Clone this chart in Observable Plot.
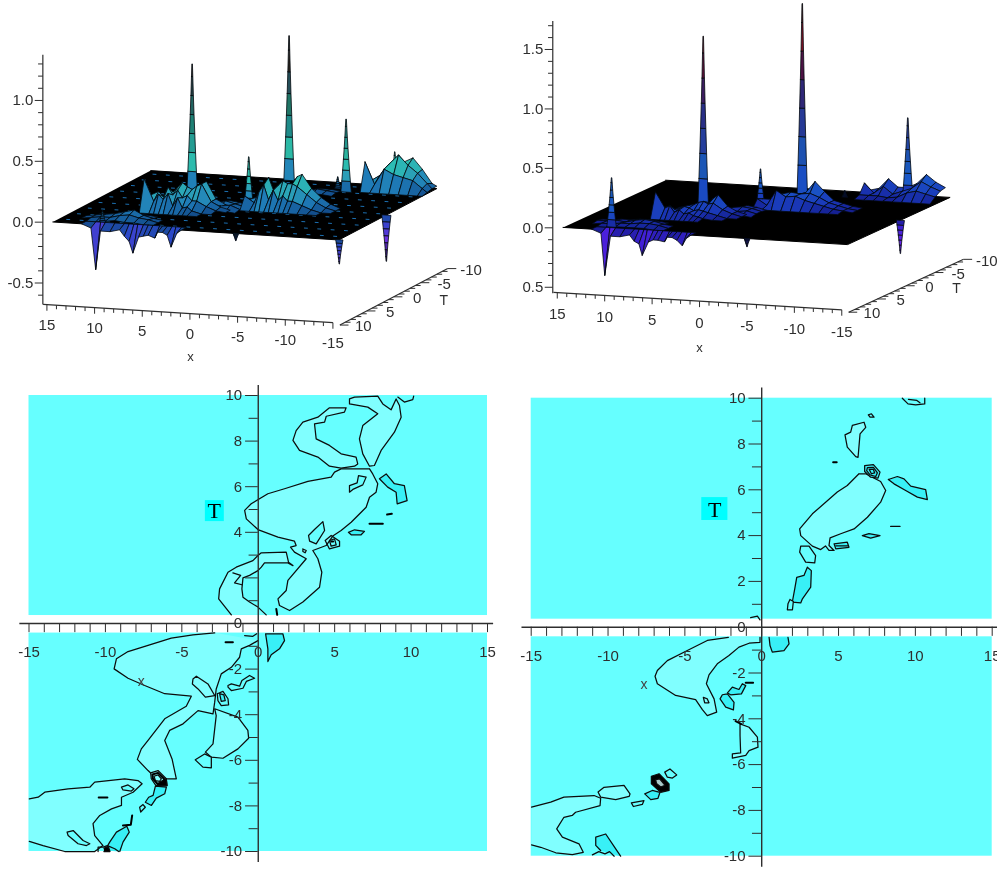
<!DOCTYPE html>
<html><head><meta charset="utf-8">
<script src="https://cdn.jsdelivr.net/npm/d3@7"></script>
<script src="https://cdn.jsdelivr.net/npm/@observablehq/plot@0.6"></script>
<style>
html,body{margin:0;background:#fff}
#fig{position:relative;width:997px;height:870px;overflow:hidden}
#fig svg{position:absolute;filter:blur(.4px);overflow:visible;background:transparent}
</style></head><body><div id="fig"></div>
<script>
// ---------- shared tick values ----------
const xTicks=[-15,-14,-13,-12,-11,-10,-9,-8,-7,-6,-5,-4,-3,-2,-1,0,1,2,3,4,5,6,7,8,9,10,11,12,13,14,15];
const xLabels=[-15,-10,-5,0,5,10,15];
const tTicks=[-10,-9,-8,-7,-6,-5,-4,-3,-2,-1,1,2,3,4,5,6,7,8,9,10];
const tMajor=[-10,-8,-6,-4,-2,2,4,6,8,10];
const tLabelsLeft=[-10,-8,-6,-4,-2,0,4,6,8,10];
const tLabelsRight=[-10,-8,-6,-4,-2,0,2,4,6,8,10];
const zTicksLeft=[-0.6,-0.5,-0.4,-0.3,-0.2,-0.1,0,0.1,0.2,0.3,0.4,0.5,0.6,0.7,0.8,0.9,1,1.1,1.2,1.3];
const zLabelsLeft=[[-0.5,"-0.5"],[0,"0.0"],[0.5,"0.5"],[1,"1.0"]];
const zTicksRight=[-0.5,-0.4,-0.3,-0.2,-0.1,0,0.1,0.2,0.3,0.4,0.5,0.6,0.7,0.8,0.9,1,1.1,1.2,1.3,1.4,1.5,1.6,1.7];
const zLabelsRight=[[-0.5,"0.5"],[0,"0.0"],[0.5,"0.5"],[1,"1.0"],[1.5,"1.5"]];
const t3dTicks=[-10,-9,-8,-7,-6,-5,-4,-3,-2,-1,0,1,2,3,4,5,6,7,8,9,10];
const t3dLabels=[-10,-5,0,5,10];
const dashXs=[-14,-12.6,-11.2,-9.8,-8.4,-7,-5.6,-4.2,-2.8,-1.4,0,1.4,2.8,4.2,5.6,7,8.4,9.8,11.2,12.6,14];
const dashTs=[-8.8,-6.6,-4.4,-2.2,0,2.2,4.4,6.6,8.8];
const spikeLevels=[0,0.15,0.3,0.45,0.6,0.75,0.9,1];
const spikeHalfWidth=[0.55,0.45,0.36,0.28,0.2,0.13,0.07,0.03];

// ---------- left surface: [x,T,z] ----------
const peaksLeft=[[7.58,-4,1.04],[0.29,-9.6,1.19],[-7.13,-6.8,0.6],[-0.4,-0.03,0.4],[-5.76,-7.77,0.1],[10.3,9,0.1],[-11,-9.2,0.3]];
const dipsLeft=[[-15,9.9,-0.2],[-15,0.3,-0.38],[-4.2,10,-0.06]];
const patchesLeft=[
 {xs:[12,11,10.5,10,9,8,7.5,7,6.6,6,5.5,5,4.3,4,3.5,3,2.6,2,1.5],Ts:[9,10],
  zs:[[0,0,0,0,0,0,0,0,0,0,0,0,0,0,0,0,0,0,0],[0,-0.03,-0.37,-0.05,-0.05,-0.03,-0.08,-0.12,-0.215,-0.08,-0.07,-0.06,-0.08,-0.03,-0.03,-0.05,-0.146,-0.03,0]]},
 {xs:[13,12,11,10,9,8,7,6,5],Ts:[6,7,8,9],
  zs:[[0,0,0,0.01,0.03,0.02,0.01,0,0],[0,0.01,0.02,0.03,0.05,0.07,0.03,0.01,0],[0,0.01,0.02,0.02,0.04,0.05,0.03,0.02,0],[0,0,0,0.01,0.02,0.01,0.01,0,0]]},
 {xs:[3.5,2.5,1.5,0.5,-0.5],Ts:[0,1,2,3],
  zs:[[0,0.01,0.03,0.02,0],[0.01,0.03,0.05,0.03,0.01],[0.01,0.04,0.03,0.04,0.01],[0,0.01,0.02,0.01,0]]},
 {xs:[8.5,7.5,7,6.5,6,5.5,5,4.5,4,3.5,2.5,1.5,0.5],Ts:[1,2,3,4,5],
  zs:[[0,0.02,0.03,0.05,0.06,0.08,0.1,0.12,0.16,0.2,0.06,0.02,0],[0.02,0.08,0.1,0.12,0.16,0.2,0.17,0.15,0.18,0.2,0.06,0.02,0],[0.1,0.14,0.1,0.18,0.12,0.16,0.1,0.12,0.08,0.08,0.04,0.01,0],[0.26,0.08,0.14,0.1,0.15,0.05,0.12,0.04,0.05,0.02,0,0,0],[0,0,0,0,0,0,0,0,0,0,0,0,0]]},
 {xs:[-0.5,-1.5,-2,-2.5,-3,-3.5,-4,-4.5,-5,-5.5,-6.5,-7.5,-8.5,-9.5],Ts:[-1,0,1,2],
  zs:[[0,0.03,0.06,0.1,0.1,0.12,0.15,0.18,0.24,0.26,0.15,0.08,0.03,0],[0.05,0.08,0.16,0.24,0.14,0.18,0.22,0.2,0.2,0.18,0.12,0.06,0.02,0],[0.1,0.05,0.14,0.2,0.08,0.16,0.08,0.12,0.08,0.08,0.05,0.02,0,0],[0,0,0,0,0,0,0,0,0,0,0,0,0,0]]},
 {xs:[-3.5,-4.5,-5.5,-6.5],Ts:[-7,-6,-5],
  zs:[[0,0.01,0.01,0],[0.01,0.03,0.02,0.01],[0,0.01,0.01,0]]},
 {xs:[-8.5,-9.5,-10.5,-11.5,-12.5,-13.5,-14.5,-15],Ts:[-10,-9,-8,-7],
  zs:[[0,0.06,0.18,0.2,0.24,0.15,0.04,0.02],[0.05,0.1,0.2,0.28,0.2,0.14,0.06,0.02],[0.23,0.05,0.18,0.14,0.12,0.1,0.04,0.01],[0,0,0,0,0,0,0,0]]}
];

// ---------- right surface ----------
const peaksRight=[[6.71,-2,1.41],[-0.49,-8,1.6],[-11,-9.14,0.667],[1.37,-3.3,0.294],[10.54,8.78,0.415],[-5.14,-7.7,0.056]];
const dipsRight=[[-15,-0.3,-0.28],[-4.4,10,-0.07]];
const patchesRight=[
 {xs:[12,11,10.6,10,9,8,7.5,7,6.65,6,5.5,5,4.3,4,3.5,3,2.43,2,1.5],Ts:[9,10],
  zs:[[0,0,0,0,0,0,0,0,0,0,0,0,0,0,0,0,0,0,0],[0,-0.03,-0.384,-0.05,-0.05,-0.03,-0.08,-0.1,-0.196,-0.08,-0.06,-0.06,-0.07,-0.03,-0.03,-0.05,-0.093,-0.03,0]]},
 {xs:[13,12,11,10,9,8,7,6,5],Ts:[6,7,8,9],
  zs:[[0,0,0.01,0.01,0.02,0.02,0.01,0,0],[0.01,0.01,0.02,0.01,0.03,0.04,0.03,0.01,0],[0,0.01,0.01,0.02,0.02,0.03,0.03,0.02,0],[0,0,0,0.01,0.01,0.01,0.01,0,0]]},
 {xs:[3.5,2.5,1.5,0.5,-0.5],Ts:[-1,0,1,2],
  zs:[[0,0.01,0.03,0.02,0],[0.01,0.03,0.04,0.03,0.01],[0.01,0.03,0.02,0.03,0.01],[0,0.01,0.02,0.01,0]]},
 {xs:[8.5,7.5,7,6.5,6,5.5,5,4.5,4,3.5,2.5,1.5,0.5],Ts:[1,2,3,4,5],
  zs:[[0,0,0.01,0.02,0.04,0.05,0.06,0.08,0.12,0.15,0.06,0.02,0],[0,0.03,0.05,0.06,0.07,0.08,0.1,0.11,0.09,0.1,0.05,0.02,0],[0.05,0.08,0.05,0.06,0.08,0.07,0.05,0.06,0.05,0.04,0.02,0,0],[0.21,0.08,0.1,0.05,0.07,0.04,0.05,0.03,0.02,0.01,0,0,0],[0,0,0,0,0,0,0,0,0,0,0,0,0]]},
 {xs:[1,0,-1,-2,-3,-4,-5,-6,-7,-8,-9],Ts:[-4,-3,-2,-1],
  zs:[[0,0.03,0.05,0.08,0.1,0.2,0.12,0.05,0.03,0.01,0],[0.05,0.05,0.1,0.12,0.11,0.12,0.09,0.05,0.03,0.01,0],[0.07,0.02,0.15,0.1,0.11,0.08,0.06,0.04,0.02,0.01,0],[0,0,0,0,0,0,0,0,0,0,0]]},
 {xs:[-6.5,-7.5,-8.5,-9.5,-10.5,-11.5,-12.5,-13.5,-14.5],Ts:[-10,-9,-8,-7],
  zs:[[0.02,0.04,0.125,0.06,0.06,0.1,0.18,0.12,0.08],[0.1,0.02,0.08,0.02,0.05,0.08,0.14,0.1,0.07],[0.02,0.02,0.02,0.01,0.02,0.06,0.08,0.06,0.04],[0,0,0,0,0,0,0,0,0]]}
];

// ---------- left contour map: [x,T] ----------
const contoursLeft=[
 {level:"light",closed:true,pts:[[5.75,9.46],[4.66,9.46],[3.9,9.05],[2.92,8.83],[2.48,8.46],[2.27,8.03],[2.7,7.59],[3.9,7.3],[4.66,6.9],[5.42,6.81],[6.3,6.9],[6.51,7],[6.4,7.3],[5.42,7.44],[4.66,7.81],[3.79,8.1],[3.68,8.76],[4.34,8.83],[4.45,9.09],[5.64,9.27]]},
 {level:"light",closed:true,pts:[[6.3,9.93],[7.82,9.97],[8.15,9.63],[8.69,9.37],[9.02,9.85],[9.24,9.56],[9.35,9.05],[8.91,8.39],[8.04,7.59],[7.6,6.93],[7.28,6.9],[6.84,7.44],[6.62,8.1],[6.84,8.68],[7.82,9.2],[7.17,9.49],[5.97,9.63],[5.97,9.85]]},
 {level:"none",pts:[[9.13,9.93],[9.56,9.71],[10.11,9.82],[10.17,9.97]]},
 {level:"light",closed:true,pts:[[7.28,6.78],[5.42,6.78],[4.99,6.64],[4.77,6.42],[3.25,6.23],[1.72,5.91],[0.63,5.69],[-0.46,5.25],[-0.89,4.96],[-0.78,4.59],[-0.02,4.12],[1.29,3.79],[2.37,3.61],[2.48,3.42],[2.11,3.35],[2.37,3.13],[3.14,2.84],[1.94,1.89],[1.83,1.45],[1.29,1.08],[1.39,0.79],[2.05,0.57],[2.92,0.94],[4.01,1.59],[4.16,2.25],[3.9,2.84],[3.57,3.2],[4.44,3.42],[4.9,3.85],[5.42,4.08],[6.08,4.44],[7.06,5.1],[7.28,5.54],[7.71,5.76],[7.82,6.13],[7.49,6.56]]},
 {level:"base",closed:true,pts:[[5.97,6.05],[6.47,6.17],[6.56,6.49],[7.06,6.42],[6.84,6.08],[6.19,5.88],[5.97,5.76]]},
 {level:"base",closed:true,pts:[[4.23,4.47],[4.34,4.08],[3.79,3.49],[3.36,3.61],[3.29,3.86],[3.68,4.12]]},
 {level:"dark",closed:true,pts:[[7.93,6.35],[8.37,6.56],[8.91,6.13],[9.56,6.05],[9.74,5.39],[9.09,5.25],[9.02,5.76],[8.47,5.98]]},
 {level:"none",thick:true,pts:[[8.43,4.78],[8.74,4.81]]},
 {level:"none",thick:true,pts:[[7.28,4.37],[8.15,4.37]]},
 {level:"dark",closed:true,pts:[[5.9,4],[6.3,4.11],[6.95,4.04],[6.73,3.89],[6.08,3.89]]},
 {level:"none",closed:true,pts:[[4.38,3.64],[4.77,3.86],[5.32,3.61],[5.32,3.39],[4.66,3.27]]},
 {level:"none",closed:true,pts:[[4.66,3.64],[4.99,3.71],[5.1,3.45],[4.77,3.39]]},
 {level:"none",thick:true,pts:[[4.78,3.6],[4.9,3.6]]},
 {level:"none",closed:true,pts:[[2.92,3.27],[3.14,3.2],[3.07,3.1],[2.92,3.16]]},
 {level:"light",pts:[[-1.76,0.38],[-2.59,1.08],[-2.53,1.52],[-1.98,2.25],[-1.44,2.47],[-0.35,2.76],[-0.02,2.98],[0.2,3.1],[1.83,3.13],[1.98,2.69],[2.27,2.54],[1.94,2.66],[0.41,2.66],[0.2,2.47],[-0.02,2.32],[-0.57,2.11],[-1,2],[-1.07,1.52],[-1,1.15],[-0.57,0.94],[-0.02,0.72],[0.52,0.38]]},
 {level:"none",pts:[[-1.66,2.22],[-1.15,2.11],[-1.55,1.78],[-1.07,1.7]]},
 {level:"none",thick:true,pts:[[1.18,0.64],[1.24,0.38]]},
 {level:"light",pts:[[-2.85,-0.41],[-4.27,-0.5],[-5.69,-0.64],[-7.21,-0.96],[-8.52,-1.23],[-9.28,-1.55],[-9.43,-1.99],[-8.52,-2.4],[-7.43,-2.72],[-6.12,-3.08],[-4.38,-3.19],[-4.71,-3.63],[-6.12,-4.18],[-7.21,-5.13],[-7.65,-5.5],[-7.91,-5.96],[-7.21,-6.45],[-6.99,-6.59],[-5.97,-6.81],[-5.36,-6.81],[-5.64,-5.94],[-6.12,-5.13],[-5.8,-4.69],[-4.92,-4.4],[-3.94,-3.82],[-2.96,-3.96],[-2.85,-3.45],[-2.75,-2.87],[-2.42,-2.21],[-1.76,-1.92],[-1.22,-1.48],[-1.11,-1.11],[-0.57,-0.96],[-0.02,-0.75]]},
 {level:"none",pts:[[-0.89,-0.53],[-0.35,-0.56],[-0.1,-0.45]]},
 {level:"none",closed:true,pts:[[-4.27,-2.43],[-4.05,-2.31],[-3.29,-2.65],[-2.85,-3.16],[-3.46,-3.23],[-3.94,-2.87],[-4.31,-2.65]]},
 {level:"none",thick:true,pts:[[-2.14,-0.82],[-1.66,-0.82]]},
 {level:"none",closed:true,pts:[[-2.68,-3.08],[-2.31,-2.98],[-1.98,-3.3],[-1.94,-3.57],[-2.42,-3.6],[-2.64,-3.38]]},
 {level:"dark",closed:true,pts:[[-2.53,-3.08],[-2.25,-3.13],[-2.16,-3.38],[-2.42,-3.42]]},
 {level:"base",closed:true,pts:[[-1.98,-2.72],[-1.76,-2.65],[-1.22,-2.75],[-1.07,-2.5],[-0.57,-2.28],[-0.24,-2.4],[-0.78,-2.54],[-1,-2.84],[-1.76,-2.94],[-1.98,-2.79]]},
 {level:"dark",pts:[[0.48,-0.45],[1.61,-0.45],[1.72,-0.75],[1.39,-1.11],[0.85,-1.37],[0.63,-1.67],[0.63,-1.11],[0.48,-0.45]]},
 {level:"light",closed:true,pts:[[-2.85,-3.74],[-1.33,-4.11],[-0.68,-4.69],[-0.63,-5.03],[-1.33,-5.5],[-2.31,-5.91],[-3.07,-5.86],[-3.46,-5.64],[-2.96,-5.28],[-2.75,-4.04]]},
 {level:"base",closed:true,pts:[[-4.12,-5.98],[-3.51,-5.72],[-3.07,-5.86],[-3.07,-6.33],[-3.62,-6.3]]},
 {level:"light",closed:true,pts:[[-7.04,-6.55],[-6.56,-6.45],[-6.02,-6.81],[-5.97,-7.11],[-6.67,-7.13],[-7,-6.81]]},
 {level:"black",closed:true,pts:[[-6.67,-7.13],[-5.97,-7.11],[-6.02,-6.81],[-6.45,-6.95]]},
 {level:"none",closed:true,thick:true,pts:[[-6.93,-6.62],[-6.56,-6.55],[-6.17,-6.81],[-6.12,-7.03],[-6.6,-7.03],[-6.89,-6.81]]},
 {level:"none",closed:true,pts:[[-6.82,-6.7],[-6.56,-6.64],[-6.34,-6.81],[-6.45,-6.92],[-6.73,-6.89]]},
 {level:"dark",closed:true,pts:[[-6.73,-7.13],[-6.01,-7.18],[-6.12,-7.47],[-6.67,-7.66],[-6.99,-7.98],[-7.39,-7.84],[-7.17,-7.62],[-6.88,-7.54]]},
 {level:"none",closed:true,pts:[[-7.76,-8.06],[-7.54,-7.94],[-7.39,-8.06],[-7.69,-8.27]]},
 {level:"light",pts:[[-14.98,-7.69],[-14.4,-7.62],[-13.97,-7.4],[-12.44,-7.25],[-11.02,-7.18],[-10.7,-6.96],[-8.74,-6.81],[-7.87,-6.89],[-7.6,-7.03],[-8.19,-7.4],[-8.95,-7.62],[-8.95,-7.98],[-9.6,-8.13],[-10.37,-8.42],[-10.81,-8.78],[-10.7,-9.3],[-10.16,-9.74],[-10.7,-10],[-12.66,-10],[-14.08,-9.74],[-14.98,-9.56]]},
 {level:"base",closed:true,pts:[[-8.95,-7.18],[-8.52,-7.08],[-8.13,-7.25],[-8.3,-7.35],[-8.85,-7.3]]},
 {level:"none",thick:true,pts:[[-10.44,-7.63],[-9.87,-7.63]]},
 {level:"base",closed:true,pts:[[-12.51,-9.15],[-12.11,-9.08],[-11.46,-9.52],[-11.02,-9.66],[-11.24,-9.74],[-11.79,-9.66],[-12.44,-9.3]]},
 {level:"dark",pts:[[-10.04,-9.96],[-9.72,-9.59],[-9.28,-9.15],[-8.6,-8.89],[-8.44,-9.15],[-8.85,-9.59],[-9.06,-10]]},
 {level:"none",thick:true,pts:[[-8.85,-8.86],[-8.34,-8.83],[-8.25,-8.42]]},
 {level:"none",pts:[[-10.48,-10],[-10.48,-9.81],[-10.16,-9.81],[-9.87,-9.74],[-9.39,-9.88],[-9.13,-10]]},
 {level:"black",pts:[[-10.1,-9.85],[-9.8,-9.8],[-9.7,-10],[-10.1,-10]]}
];

// ---------- right contour map ----------
const contoursRight=[
 {level:"light",closed:true,pts:[[6.33,6.7],[6.77,6.7],[7.2,6.55],[7.74,6.36],[8.07,5.97],[7.74,5.46],[6.88,4.8],[6.01,4.29],[5.14,4.08],[4.45,3.9],[4.38,3.57],[4.71,3.35],[4.38,3.35],[4.15,3.55],[3.84,3.39],[3.3,3.54],[2.54,4],[2.47,4.29],[3.3,4.95],[4.92,5.9],[5.57,6.19]]},
 {level:"none",pts:[[9.15,10],[9.52,9.75],[10.02,9.71],[10.61,9.75],[10.61,10]]},
 {level:"none",pts:[[9.55,9.95],[10.1,9.9],[10.3,9.8]]},
 {level:"none",closed:true,pts:[[6.94,9.27],[7.14,9.32],[7.31,9.17],[7.05,9.17]]},
 {level:"light",closed:true,pts:[[5.9,8.81],[6.66,8.95],[6.77,8.73],[6.4,8.44],[6.27,7.42],[6.12,7.45],[5.57,7.86],[5.42,8.4],[5.79,8.52]]},
 {level:"none",thick:true,pts:[[4.65,7.2],[4.88,7.2]]},
 {level:"dark",closed:true,pts:[[6.7,7.06],[7.27,7.1],[7.7,6.77],[7.57,6.51],[7.09,6.55],[6.7,6.8]]},
 {level:"none",closed:true,pts:[[6.88,6.97],[7.27,6.98],[7.53,6.74],[7.42,6.58],[7.05,6.65],[6.83,6.84]]},
 {level:"none",closed:true,pts:[[7,6.89],[7.27,6.89],[7.35,6.74],[7.14,6.7]]},
 {level:"dark",closed:true,pts:[[8.24,6.45],[8.83,6.58],[9.26,6.48],[9.7,6.16],[10.67,6.01],[10.78,5.57],[10.13,5.68],[9.37,5.97],[8.61,6.26]]},
 {level:"none",pts:[[8.39,4.4],[9,4.4]]},
 {level:"dark",closed:true,pts:[[6.55,4],[6.98,4.09],[7.7,4],[7.09,3.89]]},
 {level:"dark",closed:true,pts:[[4.71,3.64],[5.57,3.71],[5.68,3.49],[4.82,3.42]]},
 {level:"none",pts:[[4.82,3.55],[5.6,3.55]]},
 {level:"base",closed:true,pts:[[2.54,3.54],[3.08,3.54],[3.51,3.13],[3.45,2.81],[2.86,2.84],[2.47,3.28]]},
 {level:"dark",closed:true,pts:[[2.97,2.62],[3.23,2.47],[3.19,1.75],[2.65,1.24],[2.54,1.06],[1.99,1.09],[2.15,1.67],[2.28,2.18],[2.75,2.26]]},
 {level:"base",closed:true,pts:[[1.84,1.21],[2.06,1.12],[2,0.76],[1.67,0.76],[1.71,1.02]]},
 {level:"none",pts:[[-0.72,0.42],[-0.28,0.48],[-0.11,0.32]]},
 {level:"light",pts:[[-2.17,-0.44],[-3.54,-0.58],[-4.84,-1.02],[-6.14,-1.46],[-6.79,-1.89],[-6.94,-2.14],[-6.79,-2.47],[-5.6,-2.98],[-4.3,-3.16],[-3.86,-3.6],[-3.54,-3.86],[-2.93,-3.71],[-3.1,-3.13],[-3.6,-2.47],[-3.43,-2.08],[-2.89,-1.6],[-2.13,-1.24],[-1.48,-0.87],[-0.82,-0.7],[-0.11,-0.66],[-0.11,-0.44]]},
 {level:"none",closed:true,pts:[[-3.8,-3.06],[-3.54,-3.13],[-3.43,-3.3],[-3.71,-3.3]]},
 {level:"dark",pts:[[0.48,-0.44],[0.54,-0.8],[0.69,-1.09],[1.45,-1.02],[1.78,-0.73],[1.71,-0.44]]},
 {level:"dark",closed:true,pts:[[-2.23,-2.91],[-1.8,-3.28],[-1.84,-3.61],[-2.34,-3.49],[-2.71,-3.13],[-2.56,-2.95]]},
 {level:"dark",closed:true,pts:[[-2.23,-2.87],[-1.91,-2.62],[-1.48,-2.72],[-1.26,-2.47],[-1.04,-2.55],[-1.32,-2.91],[-2.02,-2.95]]},
 {level:"none",thick:true,pts:[[-1.04,-2.43],[-0.56,-2.43]]},
 {level:"light",closed:true,pts:[[-1.41,-4.22],[-0.82,-4.37],[-0.28,-4.8],[-0.24,-5.24],[-0.82,-5.39],[-1.04,-5.6],[-1.91,-5.72],[-1.91,-5.53],[-1.37,-5.49],[-1.41,-4.73]]},
 {level:"none",thick:true,pts:[[-1.7,-4.1],[-1.35,-4.22]]},
 {level:"black",closed:true,pts:[[-7.18,-6.51],[-6.68,-6.4],[-6.03,-6.84],[-6.03,-7.13],[-6.57,-7.21],[-7.18,-6.84]]},
 {level:"white",closed:true,pts:[[-6.9,-6.66],[-6.64,-6.62],[-6.3,-6.9],[-6.57,-6.98],[-6.85,-6.82]]},
 {level:"none",closed:true,pts:[[-6.31,-6.33],[-5.97,-6.19],[-5.53,-6.45],[-5.81,-6.59],[-6.14,-6.55]]},
 {level:"dark",closed:true,pts:[[-7.61,-7.28],[-7.12,-7.13],[-6.62,-7.21],[-6.75,-7.47],[-7.22,-7.53]]},
 {level:"none",closed:true,pts:[[-8.48,-7.67],[-7.66,-7.57],[-7.77,-7.74],[-8.35,-7.83]]},
 {level:"light",pts:[[-14.98,-7.86],[-13.73,-7.64],[-12.87,-7.42],[-10.91,-7.35],[-10.48,-7.47],[-10.52,-7.79],[-12.11,-8.08],[-12.33,-8.22],[-12.87,-8.3],[-13.34,-8.81],[-12.97,-9.17],[-11.89,-9.46],[-11.61,-9.83],[-12.32,-9.93],[-13.4,-9.85],[-14.38,-9.61],[-14.98,-9.51]]},
 {level:"light",closed:true,pts:[[-10.65,-7.2],[-10.26,-6.99],[-8.96,-6.91],[-8.57,-7.28],[-8.63,-7.39],[-9.5,-7.53],[-10.48,-7.42]]},
 {level:"dark",pts:[[-9.18,-10],[-9.5,-9.68],[-10.15,-9.03],[-10.8,-9.17],[-10.8,-9.53],[-10.48,-9.75]]},
 {level:"none",pts:[[-11.02,-9.94],[-10.6,-9.8],[-10.2,-9.9],[-9.9,-9.8],[-9.6,-10]]}
];

// ---------- helpers ----------
const fig=document.getElementById("fig");
function place(svg,l,t){svg.style.left=l+"px";svg.style.top=t+"px";fig.appendChild(svg);}
const FONT="Liberation Sans, Arial, sans-serif", AXIS="#2e2e2e";
const levelScale={type:"ordinal",domain:["light","base","dark","black","white","none"],range:["#80FFFF","#66FFFF","#38F0F6","#000000","#a8c8c8","none"]};

function contourPanel({contours,tLabels,width,height,xRange,yRange,tBox,tAt,xAt,left,top}){
  const rows=contours.flatMap((c,i)=>{
    const pts=c.closed?[...c.pts,c.pts[0]]:c.pts;
    return pts.map(([x,T])=>({x,T,id:i,level:c.level,w:c.thick?2:1}));
  });
  const svg=Plot.plot({
    width,height,margin:0,
    x:{domain:[-15,15],range:xRange,axis:null},
    y:{domain:[-10,10],range:yRange,axis:null},
    color:levelScale,
    marks:[
      Plot.rect([{x1:-15,x2:15,y1:0.35,y2:10},{x1:-15,x2:15,y1:-10,y2:-0.42}],{x1:"x1",x2:"x2",y1:"y1",y2:"y2",fill:()=>"base",inset:0}),
      Plot.rect([tBox],{x1:"x1",x2:"x2",y1:"y1",y2:"y2",fill:"#00FFFF",inset:0}),
      Plot.line(rows.filter(d=>d.w===1),{x:"x",y:"T",z:"id",fill:"level",stroke:"#0c0c0c",strokeWidth:1.25,curve:"linear"}),
      Plot.line(rows.filter(d=>d.w!==1),{x:"x",y:"T",z:"id",fill:"level",stroke:"#000",strokeWidth:2,curve:"linear"}),
      Plot.ruleY([0],{x1:-15.6,x2:15.4,stroke:AXIS,strokeWidth:1.4}),
      Plot.ruleX([0],{y1:-10.48,y2:10.44,stroke:AXIS,strokeWidth:1.4}),
      Plot.ruleX(xTicks,{y1:0,y2:-0.4,stroke:AXIS,strokeWidth:1}),
      Plot.ruleY(tTicks,{x1:d=>tMajor.includes(d)?-0.83:-0.6,x2:0,stroke:AXIS,strokeWidth:1}),
      Plot.text(xLabels,{x:d=>d,y:-1.26,text:d=>String(d),fontSize:15,fontFamily:FONT,fill:AXIS}),
      Plot.text(tLabels,{x:-1.05,y:d=>d,text:d=>String(d),textAnchor:"end",fontSize:15,fontFamily:FONT,fill:AXIS}),
      Plot.text(["x"],{x:xAt[0],y:xAt[1],fontSize:14,fontFamily:FONT,fill:"#444"}),
      Plot.text(["T"],{x:tAt[0],y:tAt[1],fontSize:22,fontFamily:"Liberation Serif, serif",fill:"#000"})
    ]
  });
  place(svg,left,top);
}

function surfacePanel(cfg){
  const {a,b,c}=cfg;
  const U=(x,T)=>x+a*T, V=(x,T,z)=>z+b*x+c*T;
  let polys=[];
  for(const p of cfg.patches){
    p.zs.forEach((row,r)=>{ if(r===p.Ts.length-1) return;
      row.forEach((_,k)=>{ if(k===row.length-1) return;
        const corners=[[p.xs[k],p.Ts[r],p.zs[r][k]],[p.xs[k+1],p.Ts[r],p.zs[r][k+1]],[p.xs[k+1],p.Ts[r+1],p.zs[r+1][k+1]],[p.xs[k],p.Ts[r+1],p.zs[r+1][k]]];
        const m=d3.mean(corners,q=>q[2]);
        if(Math.abs(m)<0.004) return;
        polys.push({T:(p.Ts[r]+p.Ts[r+1])/2,level:m,corners});
      });
    });
  }
  for(const [x,T,z] of [...cfg.peaks,...cfg.dips]){
    const k=Math.min(1,0.5+Math.abs(z));
    spikeLevels.forEach((f,i)=>{ if(i===spikeLevels.length-1) return;
      const w0=spikeHalfWidth[i]*k,w1=spikeHalfWidth[i+1]*k,f1=spikeLevels[i+1];
      polys.push({T:T+0.001*i,level:z*(f+f1)/2,corners:[[x+w0,T,z*f],[x-w0,T,z*f],[x-w1,T,z*f1],[x+w1,T,z*f1]]});
    });
  }
  polys.sort((p,q)=>p.T-q.T);
  const rows=polys.flatMap((p,i)=>[...p.corners,p.corners[0]].map(([x,T,z])=>({u:U(x,T),v:V(x,T,z),id:i,level:p.level})));
  const plane=[[15,10],[-15,10],[-15,-10],[15,-10]].map(([x,T])=>({u:U(x,T),v:V(x,T,0)}));
  const dashes=cfg.dashes?dashXs.flatMap(x=>dashTs.map(T=>({x,T}))):[];
  const ax=cfg.zAxis, xa=cfg.xAxis, ta=cfg.tAxis;
  const zu=U(ax.x,ax.T), zv0=V(ax.x,ax.T,0);
  const xaV=x=>V(x,xa.T,xa.z), xaU=x=>U(x,xa.T);
  const taU=T=>U(ta.x,T*ta.stretch), taV=T=>V(ta.x,T*ta.stretch,ta.z);
  const tick=d=>Number.isInteger(d*2);
  const svg=Plot.plot({
    width:cfg.width,height:cfg.height,margin:0,
    x:{domain:[15,-15],range:cfg.xRange,axis:null},
    y:{domain:[-1,1],range:cfg.yRange,axis:null},
    color:{type:"linear",domain:cfg.colorDomain,range:cfg.colorRange,interpolate:"rgb",clamp:true},
    marks:[
      Plot.line(plane,{x:"u",y:"v",fill:"#000",stroke:"#000",strokeWidth:1}),
      Plot.link(dashes,{x1:d=>U(d.x+0.2,d.T),y1:d=>V(d.x+0.2,d.T,0),x2:d=>U(d.x-0.2,d.T),y2:d=>V(d.x-0.2,d.T,0),stroke:"#1c6fb0",strokeWidth:1}),
      Plot.line(rows,{x:"u",y:"v",z:"id",fill:"level",stroke:"#03090e",strokeWidth:0.8,curve:"linear"}),
      Plot.link([0],{x1:zu,x2:zu,y1:zv0+ax.lo,y2:zv0+ax.hi,stroke:AXIS,strokeWidth:1.2}),
      Plot.link(cfg.zTicks,{x1:zu,x2:d=>zu+(tick(d)?0.85:0.5),y1:d=>d+zv0,y2:d=>d+zv0,stroke:AXIS,strokeWidth:1}),
      Plot.text(cfg.zLabels,{x:zu+1.0,y:d=>d[0]+zv0,text:d=>d[1],textAnchor:"end",fontSize:15,fontFamily:FONT,fill:AXIS}),
      Plot.link([0],{x1:xaU(15.4),x2:xaU(-15),y1:xaV(15.4),y2:xaV(-15),stroke:AXIS,strokeWidth:1.2}),
      Plot.link(xTicks,{x1:xaU,x2:xaU,y1:xaV,y2:d=>xaV(d)-(d%5===0?0.05:0.033),stroke:AXIS,strokeWidth:1}),
      Plot.text(xLabels,{x:xaU,y:d=>xaV(d)-xa.labelDrop,text:d=>String(d),fontSize:15,fontFamily:FONT,fill:AXIS}),
      Plot.text(["x"],{x:cfg.xName[0],y:cfg.xName[1],fontSize:13,fontFamily:FONT,fill:AXIS}),
      Plot.link([0],{x1:taU(10),x2:taU(-10),y1:taV(10),y2:taV(-10),stroke:AXIS,strokeWidth:1.2}),
      Plot.link(t3dTicks,{x1:taU,x2:d=>taU(d)-(d%5===0?0.9:0.55),y1:taV,y2:taV,stroke:AXIS,strokeWidth:1}),
      Plot.text(t3dLabels,{x:d=>taU(d)-2.45,y:d=>taV(d)-0.012,text:d=>String(d),fontSize:15,fontFamily:FONT,fill:AXIS}),
      Plot.text(["T"],{x:cfg.tName[0],y:cfg.tName[1],fontSize:14,fontFamily:FONT,fill:AXIS})
    ]
  });
  place(svg,cfg.left,cfg.top);
}

// ---------- panels ----------
surfacePanel({left:0,top:0,width:500,height:372,xRange:[101.3,387.3],yRange:[326.5,83.1],
  a:0.514,b:0.00493,c:-0.0211,patches:patchesLeft,peaks:peaksLeft,dips:dipsLeft,dashes:true,
  zTicks:zTicksLeft,zLabels:zLabelsLeft,
  zAxis:{x:15.9,T:10.28,lo:-0.677,hi:1.375},
  xAxis:{T:11.2,z:-0.654,labelDrop:0.167},
  tAxis:{x:-15.63,z:-0.675,stretch:1.1},
  xName:[5.7,-1.248],tName:[-20.87,-0.782],
  colorDomain:[-0.4,-0.2,-0.05,0,0.03,0.07,0.13,0.2,0.3,0.45,0.6,0.8,1.0,1.2],
  colorRange:["#12082c","#6a30e0","#2c48c8","#124a88","#17609f","#1f7cb8","#2a9cb8","#2cbcb4","#2cb8a0","#1f8a88","#1f7a68","#25505a","#2a2018","#100805"]});

surfacePanel({left:500,top:0,width:497,height:372,xRange:[113.83,398.33],yRange:[330.8,93],
  a:0.541,b:0.00482,c:-0.01985,patches:patchesRight,peaks:peaksRight,dips:dipsRight,dashes:false,
  zTicks:zTicksRight,zLabels:zLabelsRight,
  zAxis:{x:15.87,T:10.39,lo:-0.55,hi:1.74},
  xAxis:{T:11.12,z:-0.526,labelDrop:0.185},
  tAxis:{x:-15.77,z:-0.541,stretch:1.12},
  xName:[6.02,-1.142],tName:[-21.08,-0.643],
  colorDomain:[-0.4,-0.2,-0.05,0,0.05,0.15,0.3,0.5,0.8,1.1,1.4,1.6],
  colorRange:["#100840","#6a20f0","#3a20d0","#141c8c","#1a38b8","#1a58c8","#1a58b8","#24409f","#2a2a80","#501040","#901018","#200404"]});

contourPanel({contours:contoursLeft,tLabels:tLabelsLeft,left:0,top:372,width:500,height:498,
  xRange:[28.5,487],yRange:[479,23],tBox:{x1:-3.46,x2:-2.22,y1:4.47,y2:5.39},tAt:[-2.88,4.93],xAt:[-7.65,-2.53]});
contourPanel({contours:contoursRight,tLabels:tLabelsRight,left:500,top:372,width:497,height:498,
  xRange:[30.7,491.7],yRange:[483.7,25.7],tBox:{x1:-3.9,x2:-2.2,y1:4.66,y2:5.66},tAt:[-3.06,5.1],xAt:[-7.66,-2.5]});
</script></body></html>
